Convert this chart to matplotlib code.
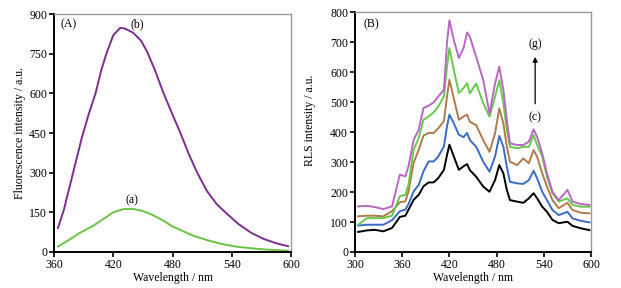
import numpy as np
import matplotlib.pyplot as plt

plt.rcParams['font.family'] = ['Liberation Serif', 'DejaVu Serif']
plt.rcParams['font.size'] = 8.5

# panel A: fluorescence spectra
wl_b_a = [364, 370, 376, 382, 388, 395, 402, 408, 413, 420, 427, 432, 440, 448, 454, 462, 471, 480, 488, 496, 505,
          515, 525, 535, 547, 560, 572, 585, 597]
fl_b = [91, 160, 250, 340, 430, 520, 600, 690, 750, 820, 848, 845, 830, 800, 760, 690, 600, 520, 450, 375, 300,
        230, 180, 145, 105, 72, 50, 33, 22]
wl_a_a = [364, 375, 385, 400, 410, 420, 430, 440, 450, 460, 470, 480, 490, 500, 515, 530, 545, 560, 575, 597]
fl_a = [21, 45, 70, 100, 125, 150, 162, 163, 155, 140, 120, 97, 80, 63, 45, 30, 20, 14, 9, 5]

# panel B: RLS spectra, curves (c)..(g)
wl_b = [304, 315, 325, 336, 347, 357, 364, 368, 374.5, 381, 387, 393.6, 400, 406, 413, 417, 420, 425.5, 432, 438, 442.5,
        446, 454, 463, 471, 478, 483.4, 488.6, 493, 497, 506, 514, 521, 527, 531.5, 538, 544, 551, 559, 570, 576.6, 587, 598]
rls_c = [67, 72, 74, 69, 80, 117, 121, 141, 174, 191, 219, 232, 232, 247, 274, 324, 358, 319, 274, 286, 293,
         273, 251, 218, 201, 240, 290, 262, 207, 173, 168, 164, 179, 196, 179, 151, 134, 107, 96, 101, 87, 79, 73]
rls_d = [88, 91, 91, 91, 106, 136, 141, 160, 202, 224, 269, 302, 302, 319, 352, 420, 458, 430, 391, 383, 397,
         373, 351, 301, 268, 318, 387, 351, 284, 234, 229, 227, 240, 271, 246, 201, 173, 140, 123, 134, 112, 104, 99]
rls_e = [119, 121, 121, 119, 136, 166, 169, 202, 297, 341, 388, 397, 397, 413, 436, 520, 574, 513, 441, 452, 458,
         434, 423, 373, 334, 396, 479, 429, 351, 301, 290, 312, 296, 340, 318, 262, 218, 173, 146, 164, 140, 131, 129]
rls_f = [91, 113, 113, 113, 121, 186, 191, 224, 341, 380, 441, 452, 466, 486, 519, 620, 680, 608, 530, 547, 563,
         529, 562, 496, 451, 518, 573, 496, 407, 351, 346, 351, 351, 390, 357, 318, 251, 196, 168, 179, 157, 151, 151]
rls_g = [152, 154, 150, 143, 152, 258, 252, 286, 374, 408, 480, 488, 499, 519, 541, 700, 772, 708, 647, 680, 732,
         718, 651, 573, 462, 562, 618, 540, 440, 362, 357, 357, 368, 409, 384, 329, 262, 201, 173, 207, 168, 160, 157]


def style(ax):
    for s in ['top', 'right']:
        ax.spines[s].set_color('#999999')
        ax.spines[s].set_linewidth(1.0)
    for s in ['left', 'bottom']:
        ax.spines[s].set_linewidth(1.4)
    ax.tick_params(direction='out', length=3.5, width=1.2, pad=1.5)


fig = plt.figure(figsize=(6.21, 2.88), dpi=100)

ax1 = fig.add_axes([0.087, 0.125, 0.3816, 0.826])
ax1.plot(wl_b_a, fl_b, color='#7b2f8f', lw=1.4)
ax1.plot(wl_a_a, fl_a, color='#6cc245', lw=1.4)
ax1.set_xlim(360, 600)
ax1.set_ylim(0, 900)
ax1.set_xticks([360, 420, 480, 540, 600])
ax1.set_yticks([0, 150, 300, 450, 600, 750, 900])
ax1.set_xlabel('Wavelength / nm', labelpad=1)
ax1.set_ylabel('Fluorescence intensity / a.u.', labelpad=2)
ax1.text(367, 860, '(A)', ha='left', va='center')
ax1.text(444, 862, '(b)', ha='center', va='center')
ax1.text(439, 197, '(a)', ha='center', va='center')
style(ax1)

ax2 = fig.add_axes([0.5717, 0.125, 0.380, 0.833])
ax2.plot(wl_b, rls_c, color='black', lw=1.4)
ax2.plot(wl_b, rls_d, color='#3a6cc4', lw=1.4)
ax2.plot(wl_b, rls_e, color='#b07a4c', lw=1.4)
ax2.plot(wl_b, rls_f, color='#66c94a', lw=1.4)
ax2.plot(wl_b, rls_g, color='#b868c2', lw=1.4)
ax2.set_xlim(300, 600)
ax2.set_ylim(0, 800)
ax2.set_xticks([300, 360, 420, 480, 540, 600])
ax2.set_yticks(range(0, 801, 100))
ax2.set_xlabel('Wavelength / nm', labelpad=1)
ax2.set_ylabel('RLS intensity / a.u.', labelpad=2)
ax2.yaxis.set_label_coords(-0.165, 0.55)
ax2.text(311, 758, '(B)', ha='left', va='center')
ax2.text(529, 693, '(g)', ha='center', va='center')
ax2.text(529, 450, '(c)', ha='center', va='center')
ax2.annotate('', xy=(529, 660), xytext=(529, 485),
             arrowprops=dict(arrowstyle='-|>', color='black', lw=0.9, mutation_scale=7))
style(ax2)

fig.savefig('out.png', dpi=100)
